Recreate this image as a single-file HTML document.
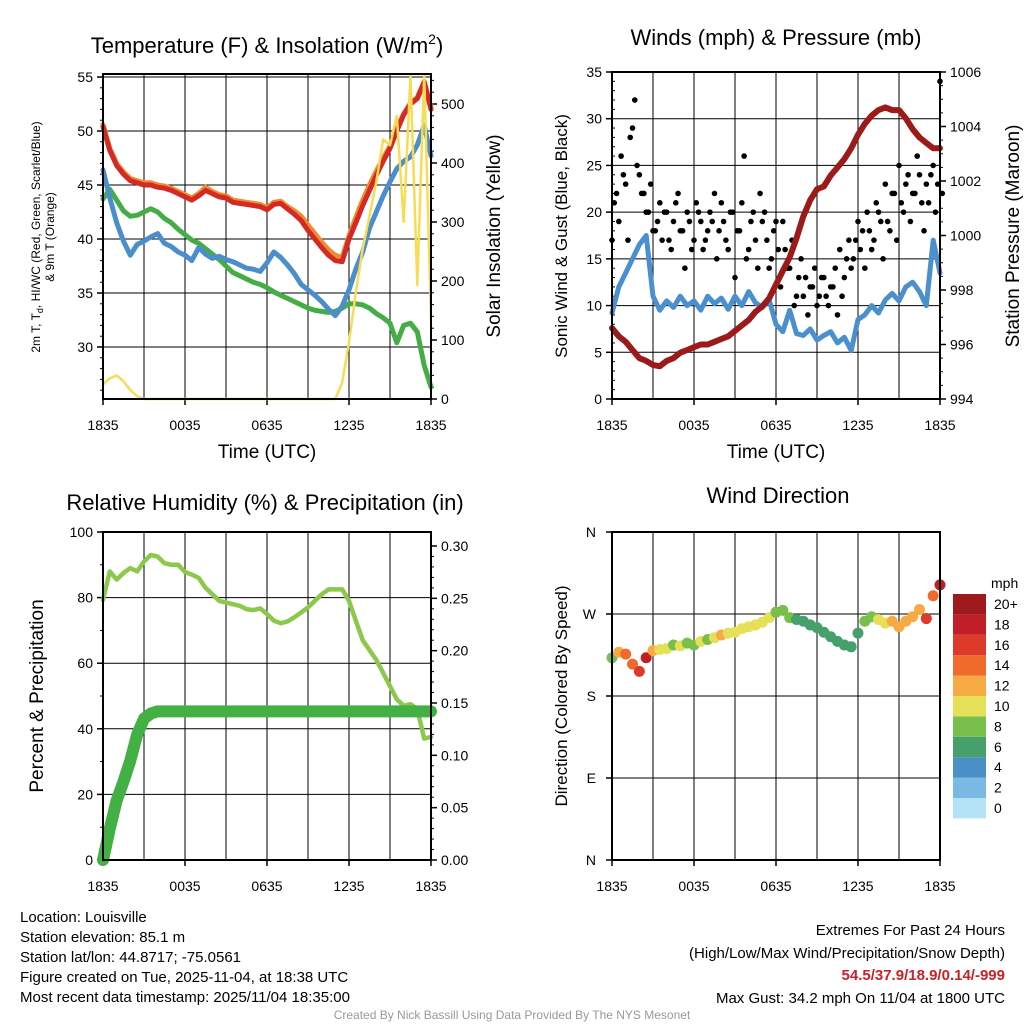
<!DOCTYPE html>
<html><head><meta charset="utf-8"><style>
body{margin:0;background:#fff;}
svg{display:block;font-family:"Liberation Sans",Arial,sans-serif;}
</style></head><body>
<svg id="s" width="1024" height="1024" viewBox="0 0 1024 1024"></svg>
<script>
// ---- data (half-hourly, 49 points, 1835 -> 1835 UTC) ----
const timeTicks = ["1835","0035","0635","1235","1835"];
const tempRed = [50.4,48.2,46.8,46,45.4,45.2,45,45,44.8,44.7,44.5,44.2,43.9,43.6,44,44.5,44.2,43.9,43.8,43.4,43.3,43.2,43.1,43,42.7,43.2,43.3,42.8,42.3,41.7,40.8,40,39.2,38.5,38,37.9,40,41.5,43.1,44.5,45.9,47.2,48.4,50,51.5,52.5,53,54.5,52];
const tempOrange = [50.6,48.4,47,46.2,45.6,45.4,45.2,45.2,45,44.9,44.7,44.4,44.1,43.8,44.2,44.8,44.4,44.1,44,43.6,43.5,43.4,43.3,43.2,42.9,43.4,43.5,43,42.6,42.1,41.3,40.5,39.7,39,38.5,38.3,40.3,42,43.6,45,46.3,47.5,48.6,50.2,51.6,52.6,53.1,54.6,52.2];
const tempBlue = [46.4,43.8,41.5,39.8,38.5,39.5,39.8,40.2,40.5,39.6,39.3,38.8,38.5,38,39.2,38.6,38.2,38.4,38.1,37.9,37.6,37.3,37.2,37,37.8,38.8,38.3,37.6,36.8,35.8,35.3,34.8,34.2,33.5,32.9,33.8,35.3,37.2,38.8,41,42.5,44,45.3,46.5,47.2,47.6,48.7,50.5,47.7];
const tempGreen = [43.7,44.6,43.6,42.6,42.1,42.2,42.5,42.8,42.5,41.9,41.5,40.9,40.4,39.9,39.6,39.1,38.6,38.1,37.5,36.9,36.6,36.3,36,35.8,35.5,35.1,34.8,34.5,34.2,33.9,33.6,33.4,33.3,33.2,33.3,33.6,34,34,33.9,33.6,33.1,32.7,32.2,30.4,32,32.2,31.4,28.3,26.3];
const solar = [25,35,40,30,15,5,0,0,0,0,0,0,0,0,0,0,0,0,0,0,0,0,0,0,0,0,0,0,0,0,0,0,0,0,0,28,96,180,255,310,368,440,430,480,300,549,193,549,136];
const windSpeed = [9.2,12,13.5,15,16.5,17.5,11,9.5,10.5,9.8,11,10,10.5,9.5,11,10.2,10.8,9.6,11,10,11.5,10.3,9.8,10.6,8,7.2,9.5,7,6.8,7.5,6.3,6.8,7.2,6,6.6,5.2,8.5,9,10,9.2,10.6,11.3,10.5,12,12.5,11.5,10,17,13.5];
const pressure = [996.6,996.3,996.1,995.8,995.5,995.4,995.25,995.2,995.4,995.5,995.7,995.8,995.9,996,996,996.1,996.2,996.3,996.5,996.7,996.9,997.2,997.4,997.7,998.2,998.7,999.2,999.9,1000.7,1001.3,1001.7,1001.8,1002.2,1002.5,1002.8,1003.2,1003.7,1004.1,1004.4,1004.6,1004.7,1004.6,1004.6,1004.3,1003.9,1003.6,1003.4,1003.2,1003.2];
const gust = [17,22,26,23,28,32,24,22,20,18,19,17,20,16,21,18,14,19,17,20,16,18,19,15,21,17,20,13,18,26,16,20,14,19,17,15,19,12,16,14,10,13,11,9,12,10,13,11,12,14,16,13,17,15,19,18,20,16,21,19,23,18,22,25,20,24,22,26,21,23,24,20,34];
const gust2 = [21,19,24,17,29,25,22,20,23,18,21,20,17,19,22,18,20,16,21,19,17,20,22,18,19,16,20,18,21,15,19,17,22,20,14,18,16,19,14,17,11,15,13,12,14,11,13,10,12,9,11,15,14,17,16,14,18,17,20,15,19,22,17,21,23,19,22,24,18,21,25,23,22];
const rh = [79.3,88,85.5,87.5,89,88,91,93,92.5,90.5,90,90,87.8,87,86,83,81,79,78.5,78,77.5,76.5,76.2,76.7,75,73,72.2,72.7,74,75.5,77,79,81,82.5,82.5,82.5,79,73,67,64,61,57,53,49,47,47.5,46,37,37.5];
const precip = [0,0.03,0.057,0.075,0.095,0.12,0.135,0.14,0.142,0.142,0.142,0.142,0.142,0.142,0.142,0.142,0.142,0.142,0.142,0.142,0.142,0.142,0.142,0.142,0.142,0.142,0.142,0.142,0.142,0.142,0.142,0.142,0.142,0.142,0.142,0.142,0.142,0.142,0.142,0.142,0.142,0.142,0.142,0.142,0.142,0.142,0.142,0.142,0.142];
const windDir = [222,228,226,215,207,222,230,231,232,236,235,238,236,240,242,244,247,249,250,254,256,258,261,266,272,274,266,264,262,258,255,250,245,240,236,234,249,262,267,264,260,262,256,262,267,275,265,290,302];
const dirSpeed = [8,13,14,15,16,18,12,11,10,9,10,8,9,10,9,10,12,10,10,10,11,10,10,10,9,8,8,7,7,6,6,6,6,6,6,6,7,8,9,10,10,12,12,12,13,12,16,14,18];
const legendLabels = ["0","2","4","6","8","10","12","14","16","18","20+"];
const legendColors = ["#b4e3f7","#7ab9e3","#4a8fc6","#46a06c","#78bf4b","#e6df58","#f7aa44","#f06a2b","#de3a2b","#c11f27","#9e1a1e"];

const NS="http://www.w3.org/2000/svg";
const svg=document.getElementById('s');
function el(tag,attrs,parent){const e=document.createElementNS(NS,tag);for(const k in attrs)e.setAttribute(k,attrs[k]);(parent||svg).appendChild(e);return e;}
function txt(x,y,s,size,anchor,extra){const t=el('text',Object.assign({x:x,y:y,'font-size':size,'text-anchor':anchor||'middle',fill:'#000'},extra||{}));t.textContent=s;return t;}
function lin(d0,d1,r0,r1){return v=>r0+(v-d0)*(r1-r0)/(d1-d0);}

function panel(x0,x1,y0,y1,name){
  const g=el('g',{});
  
  
  const xs=lin(0,24,x0,x1);
  for(let h=3;h<24;h+=6){const x=xs(h);el('line',{x1:x,x2:x,y1:y0,y2:y1,stroke:'#000','stroke-width':1},g);}
  for(let i=0;i<timeTicks.length;i++){
    const x=xs(i*6);
    el('line',{x1:x,x2:x,y1:y0,y2:y1,stroke:'#000','stroke-width':1},g);
    el('line',{x1:x,x2:x,y1:y1,y2:y1+6,stroke:'#000','stroke-width':1.5},g);
    const t=txt(x,y1+31,timeTicks[i],14);
    
    
  }
  return {g,xs};
}
function frame(x0,x1,y0,y1){el('rect',{x:x0,y:y0,width:x1-x0,height:y1-y0,fill:'none',stroke:'#000','stroke-width':2});}
function path(xs,ys,arr,color,w,name){
  let d='';arr.forEach((v,i)=>{d+=(i?'L':'M')+xs(i/2).toFixed(1)+','+ys(v).toFixed(1);});
  const p=el('path',{d:d,fill:'none',stroke:color,'stroke-width':w,'stroke-linejoin':'round','stroke-linecap':'round'});
  
  
  return p;
}
function yTicks(x,ys,vals,fmt,side,grid,x0,x1){
  vals.forEach(v=>{const y=ys(v);
    if(grid) el('line',{x1:x0,x2:x1,y1:y,y2:y,stroke:'#000','stroke-width':1});
    if(side==='l'){el('line',{x1:x-6,x2:x,y1:y,y2:y,stroke:'#000','stroke-width':1.5});const t=txt(x-10,y+5,fmt(v),14,'end');}
    else{el('line',{x1:x,x2:x+6,y1:y,y2:y,stroke:'#000','stroke-width':1.5});const t=txt(x+10,y+5,fmt(v),14,'start');}
  });
}

// ===== Panel 1: temperature =====
{const X0=103,X1=431,Y0=74,Y1=399;
 const {xs}=panel(X0,X1,Y0,Y1,'temperature-panel');
 const yt=lin(30,55,347,77), ys=lin(0,500,399,104);
 yTicks(X0,yt,[30,35,40,45,50,55],v=>v,'l',true,X0,X1);
 for(let v=26;v<=55;v++){if(v%5) el('line',{x1:X0-3,x2:X0,y1:yt(v),y2:yt(v),stroke:'#000'});}
 yTicks(X1,ys,[0,100,200,300,400,500],v=>v,'r',false);
 for(let v=20;v<=540;v+=20){if(v%100) el('line',{x1:X1,x2:X1+3,y1:ys(v),y2:ys(v),stroke:'#000'});}
 path(xs,yt,tempGreen,'#44ad45',5,'dewpoint-line');
 path(xs,yt,tempBlue,'#4a8fcc',5,'heat-index-windchill-line');
 path(xs,yt,tempOrange,'#f28a30',5,'temp-9m-line');
 path(xs,yt,tempRed,'#d42a25',5,'temp-2m-line');
 path(xs,ys,solar,'#f7dc55',2.5,'solar-insolation-line');
 frame(X0,X1,Y0,Y1);
 const t=txt(267,53,'',22);t.innerHTML='Temperature (F) &amp; Insolation (W/m<tspan dy="-9" font-size="14">2</tspan><tspan dy="9">)</tspan>';
 
 const a=txt(0,0,'',12);a.setAttribute('transform','translate(40,237) rotate(-90)');a.innerHTML='2m T, T<tspan dy="3" font-size="9">d</tspan><tspan dy="-3">, HI/WC (Red, Green, Scarlet/Blue)</tspan>';
 
 const a2=txt(0,0,'& 9m T (Orange)',12);a2.setAttribute('transform','translate(54,237) rotate(-90)');
 
 const r=txt(0,0,'Solar Insolation (Yellow)',19);r.setAttribute('transform','translate(500,236) rotate(-90)');
 
 const xl=txt(267,458,'Time (UTC)',19);
}
// ===== Panel 2: winds =====
{const X0=612,X1=940,Y0=72,Y1=399;
 const {xs}=panel(X0,X1,Y0,Y1,'winds-panel');
 const yw=lin(0,35,399,72), yp=lin(994,1006,399,72);
 yTicks(X0,yw,[0,5,10,15,20,25,30,35],v=>v,'l',true,X0,X1);
 for(let v=1;v<35;v++){if(v%5) el('line',{x1:X0,x2:X0+3,y1:yw(v),y2:yw(v),stroke:'#000'});}
 yTicks(X1,yp,[994,996,998,1000,1002,1004,1006],v=>v,'r',false);
 for(let v=994.5;v<1006;v+=0.5){if(v%2) el('line',{x1:X1,x2:X1+3,y1:yp(v),y2:yp(v),stroke:'#000'});}
 path(xs,yw,windSpeed,'#4a90cf',5,'sonic-wind-line');
 gust.forEach((v,i)=>{const c=el('circle',{cx:xs(i/3),cy:yw(v),r:2.8,fill:'#000'});
   });
 gust2.forEach((v,i)=>{const c=el('circle',{cx:xs((i+0.5)/3),cy:yw(v),r:2.8,fill:'#000'});
   });
 path(xs,yp,pressure,'#9c1a1a',6,'pressure-line');
 frame(X0,X1,Y0,Y1);
 const t=txt(776,45,'Winds (mph) & Pressure (mb)',22);
 const a=txt(0,0,'Sonic Wind & Gust (Blue, Black)',17);a.setAttribute('transform','translate(567,236) rotate(-90)');
 
 const r=txt(0,0,'Station Pressure (Maroon)',19);r.setAttribute('transform','translate(1019,236) rotate(-90)');
 
 const xl=txt(776,458,'Time (UTC)',19);
}
// ===== Panel 3: RH & precip =====
{const X0=103,X1=431,Y0=532,Y1=860;
 const {xs}=panel(X0,X1,Y0,Y1,'humidity-panel');
 const yr=lin(0,100,860,532), yq=lin(0,0.30,860,546);
 yTicks(X0,yr,[0,20,40,60,80,100],v=>v,'l',true,X0,X1);
 for(let v=10;v<100;v+=20) el('line',{x1:X0-3,x2:X0,y1:yr(v),y2:yr(v),stroke:'#000'});
 yTicks(X1,yq,[0,0.05,0.1,0.15,0.2,0.25,0.3],v=>v.toFixed(2),'r',false);
 for(let v=0.01;v<0.31;v+=0.01){if(Math.round(v*100)%5) el('line',{x1:X1,x2:X1+3,y1:yq(v),y2:yq(v),stroke:'#000'});}
 path(xs,yr,rh,'#8cc84b',4.5,'relative-humidity-line');
 path(xs,yq,precip,'#42b043',12,'precipitation-line');
 frame(X0,X1,Y0,Y1);
 const t=txt(265,510,'Relative Humidity (%) & Precipitation (in)',22);
 const a=txt(0,0,'Percent & Precipitation',19);a.setAttribute('transform','translate(43,696) rotate(-90)');
 
}
// ===== Panel 4: wind direction =====
{const X0=612,X1=940,Y0=532,Y1=860;
 const {xs}=panel(X0,X1,Y0,Y1,'wind-direction-panel');
 const yd=lin(0,360,860,532);
 const dl=['N','E','S','W','N'];
 [0,90,180,270,360].forEach((v,i)=>{const y=yd(v);
   el('line',{x1:X0,x2:X1,y1:y,y2:y,stroke:'#000'});
   el('line',{x1:X0-6,x2:X0,y1:y,y2:y,stroke:'#000','stroke-width':1.5});
   const t=txt(X0-16,y+5,dl[i],14,'end');});
 function col(s){let k=Math.min(10,Math.floor(s/2));return legendColors[k];}
 windDir.forEach((v,i)=>{const c=el('circle',{cx:xs(i/2),cy:yd(v),r:5.5,fill:col(dirSpeed[i])});
   });
 frame(X0,X1,Y0,Y1);
 const t=txt(778,503,'Wind Direction',22);
 const a=txt(0,0,'Direction (Colored By Speed)',17);a.setAttribute('transform','translate(567,696) rotate(-90)');
 
 const lg=el('g',{});
 const u=txt(991,588,'mph',14,'start');
 legendColors.forEach((c,i)=>{const y=798-i*20.4;
   const r=el('rect',{x:953,y:y,width:33,height:20.4,fill:c},lg);
   const t=txt(994,y+15,legendLabels[i],14,'start');});
}
// ===== footer =====
["Location: Louisville","Station elevation: 85.1 m","Station lat/lon: 44.8717; -75.0561","Figure created on Tue, 2025-11-04, at 18:38 UTC","Most recent data timestamp: 2025/11/04 18:35:00"].forEach((s,i)=>{
  const t=txt(20,922+i*20,s,15,'start');});
{let t=txt(1005,935,'Extremes For Past 24 Hours',15,'end');
 t=txt(1005,958,'(High/Low/Max Wind/Precipitation/Snow Depth)',15,'end');
 t=txt(1005,980,'54.5/37.9/18.9/0.14/-999',15,'end',{fill:'#cc1f26','font-weight':'bold'});
 t=txt(1005,1003,'Max Gust: 34.2 mph On 11/04 at 1800 UTC',15,'end');
 t=txt(512,1019,'Created By Nick Bassill Using Data Provided By The NYS Mesonet',12,'middle',{fill:'#999'});}
</script>
</body></html>
